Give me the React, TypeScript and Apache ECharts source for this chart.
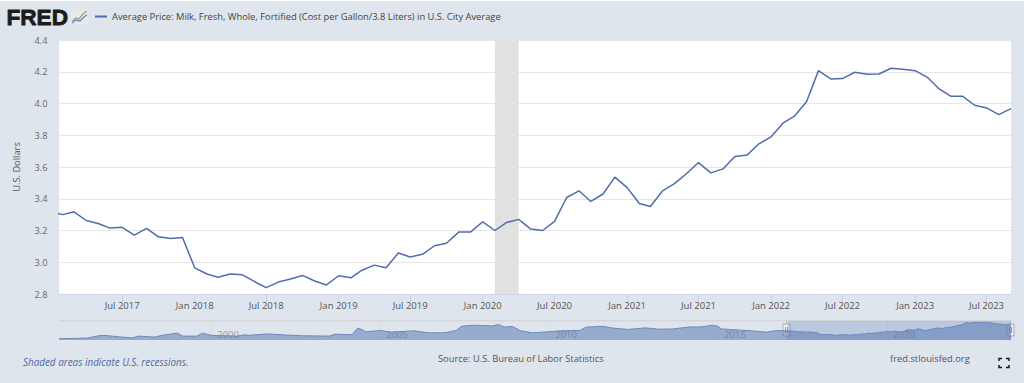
import React, { useEffect, useRef } from "react";
import * as echarts from "echarts";

const TITLE = "Average Price: Milk, Fresh, Whole, Fortified (Cost per Gallon/3.8 Liters) in U.S. City Average";
const LINE = "#4f6ea9";
const BG = "#dfe5ed";
const FONT = "'Open Sans', sans-serif";

const xTickDates = ["2017-07-01", "2018-01-01", "2018-07-01", "2019-01-01", "2019-07-01", "2020-01-01", "2020-07-01", "2021-01-01", "2021-07-01", "2022-01-01", "2022-07-01", "2023-01-01", "2023-07-01"];
const navTickDates = ["2000-01-01", "2005-01-01", "2010-01-01", "2015-01-01", "2020-01-01"];

const recession = ["2020-02-01", "2020-04-01"];
const viewRange = ["2017-01-22", "2023-09-01"];
const navRange = ["1995-07-01", "2023-09-01"];

const monthlyDates = [
  "2017-01", "2017-02", "2017-03", "2017-04", "2017-05", "2017-06", "2017-07", "2017-08", "2017-09", "2017-10", "2017-11", "2017-12",
  "2018-01", "2018-02", "2018-03", "2018-04", "2018-05", "2018-06", "2018-07", "2018-08", "2018-09", "2018-10", "2018-11", "2018-12",
  "2019-01", "2019-02", "2019-03", "2019-04", "2019-05", "2019-06", "2019-07", "2019-08", "2019-09", "2019-10", "2019-11", "2019-12",
  "2020-01", "2020-02", "2020-03", "2020-04", "2020-05", "2020-06", "2020-07", "2020-08", "2020-09", "2020-10", "2020-11", "2020-12",
  "2021-01", "2021-02", "2021-03", "2021-04", "2021-05", "2021-06", "2021-07", "2021-08", "2021-09", "2021-10", "2021-11", "2021-12",
  "2022-01", "2022-02", "2022-03", "2022-04", "2022-05", "2022-06", "2022-07", "2022-08", "2022-09", "2022-10", "2022-11", "2022-12",
  "2023-01", "2023-02", "2023-03", "2023-04", "2023-05", "2023-06", "2023-07", "2023-08", "2023-09",
];
const monthlyValues = [
  3.318, 3.30, 3.318, 3.263, 3.244, 3.215, 3.22, 3.171, 3.213, 3.16, 3.15, 3.156,
  2.965, 2.926, 2.905, 2.926, 2.922, 2.879, 2.84, 2.875, 2.894, 2.917, 2.882, 2.857,
  2.915, 2.902, 2.95, 2.982, 2.965, 3.058, 3.033, 3.05, 3.104, 3.12, 3.19, 3.19,
  3.255, 3.20, 3.25, 3.27, 3.21, 3.20, 3.257, 3.408, 3.45, 3.383, 3.43, 3.536,
  3.47, 3.37, 3.351, 3.45, 3.495, 3.559, 3.628, 3.563, 3.588, 3.666, 3.675, 3.746,
  3.79, 3.878, 3.92, 4.012, 4.207, 4.155, 4.157, 4.197, 4.184, 4.186, 4.222, 4.216,
  4.207, 4.165, 4.096, 4.046, 4.046, 3.989, 3.972, 3.93, 3.968,
];

const historyDates = [
  "1995-07", "1996-05", "1996-09", "1996-11", "1997-04", "1997-09", "1997-11", "1998-05", "1998-08", "1999-01", "1999-03", "1999-08", "1999-10",
  "2000-01", "2000-10", "2001-01", "2001-02", "2001-09", "2002-04", "2002-09", "2003-07", "2003-09", "2004-03", "2004-05", "2004-06", "2004-08", "2005-01", "2005-05",
  "2006-01", "2006-06", "2006-12", "2007-04", "2007-06", "2007-10", "2008-05", "2008-07", "2008-09", "2008-12", "2009-03", "2009-07", "2009-12",
  "2010-05", "2010-12", "2011-02", "2011-08", "2011-11", "2012-05", "2012-11", "2013-04", "2013-09", "2014-03", "2014-07", "2014-11", "2015-01", "2015-02",
  "2015-09", "2016-01", "2016-06", "2016-10",
];
const historyValues = [
  2.48, 2.56, 2.80, 2.84, 2.69, 2.56, 2.76, 2.66, 2.87, 3.08, 2.76, 2.76, 3.08,
  2.84, 2.76, 2.90, 2.84, 2.99, 2.87, 2.80, 2.76, 2.97, 2.90, 3.60, 3.52, 3.21, 3.36, 3.18,
  3.32, 3.11, 3.11, 3.36, 3.80, 3.91, 3.84, 3.98, 3.73, 3.77, 3.32, 3.11, 3.20,
  3.32, 3.36, 3.70, 3.80, 3.63, 3.46, 3.63, 3.49, 3.52, 3.73, 3.73, 3.91, 3.80, 3.52,
  3.39, 3.32, 3.18, 3.36,
];

const toTime = (s: string) => {
  const [y, m, d] = s.split("-").map(Number);
  return Date.UTC(y, m - 1, d || 1);
};
const MONTHS = ["Jan", "Feb", "Mar", "Apr", "May", "Jun", "Jul", "Aug", "Sep", "Oct", "Nov", "Dec"];

export default function App() {
  const ref = useRef<HTMLDivElement>(null);
  useEffect(() => {
    document.body.style.margin = "0";
    const chart = echarts.init(ref.current!, null, { renderer: "svg" });
    const main = monthlyDates.map((d, i) => [toTime(d), monthlyValues[i]]);
    const nav = [
      ...historyDates.map((d, i) => [toTime(d), historyValues[i]]),
      ...main,
    ];
    const text = (x: number, y: number, t: string, extra: any = {}) => ({
      type: "text", x, y, silent: true,
      style: { text: t, fontFamily: FONT, fontSize: 10, fill: "#555", textVerticalAlign: "middle", ...extra },
    });
    const handle = (x: number) => ({
      type: "group", silent: true, children: [
        { type: "line", shape: { x1: x, y1: 320, x2: x, y2: 340 }, style: { stroke: "#c4c8cf", lineWidth: 1 } },
        { type: "rect", shape: { x: x - 3.5, y: 324, width: 7, height: 12 }, style: { fill: "#f2f2f2", stroke: "#a9a9a9", lineWidth: 1 } },
        { type: "line", shape: { x1: x - 1, y1: 327, x2: x - 1, y2: 333 }, style: { stroke: "#999", lineWidth: 1 } },
        { type: "line", shape: { x1: x + 1, y1: 327, x2: x + 1, y2: 333 }, style: { stroke: "#999", lineWidth: 1 } },
      ],
    });
    const corner = (pts: number[][]) => ({
      type: "polyline", silent: true, shape: { points: pts }, style: { stroke: "#111", lineWidth: 1.4, fill: "none" },
    });
    chart.setOption({
      animation: false,
      backgroundColor: BG,
      textStyle: { fontFamily: FONT },
      legend: {
        data: [TITLE], left: 95, top: 12, padding: 0, itemWidth: 12, itemHeight: 2, itemGap: 4, icon: "rect",
        selectedMode: false,
        textStyle: { fontFamily: FONT, fontSize: 9.35, color: "#444" },
      },
      grid: [
        { left: 59, width: 952, top: 40, height: 254, backgroundColor: "#fff", show: true, borderWidth: 0 },
        { left: 59, width: 952, top: 321, height: 19 },
      ],
      xAxis: [
        {
          type: "value", gridIndex: 0, min: toTime(viewRange[0]), max: toTime(viewRange[1]),
          splitLine: { show: false },
          axisLine: { lineStyle: { color: "#ccd6eb", width: 1 } },
          axisTick: { show: true, length: 9, lineStyle: { color: "#c8d3ea", width: 1 }, customValues: xTickDates.map(toTime) },
          axisLabel: {
            customValues: xTickDates.map(toTime), margin: 6, fontSize: 9.5, color: "#555", fontFamily: FONT,
            hideOverlap: false,
            formatter: (v: number) => { const d = new Date(v); return `${MONTHS[d.getUTCMonth()]} ${d.getUTCFullYear()}`; },
          },
        },
        {
          type: "value", gridIndex: 1, min: toTime(navRange[0]), max: toTime(navRange[1]),
          splitLine: { show: false },
          axisLine: { show: false },
          axisTick: { show: true, inside: true, length: 19, lineStyle: { color: "#d8dde4" }, customValues: navTickDates.map(toTime) },
          axisLabel: {
            customValues: navTickDates.map(toTime), inside: true, margin: 1, fontSize: 9.5, color: "#9a9a9a", fontFamily: FONT,
            align: "left", padding: [0, 0, 0, 6], hideOverlap: false,
            formatter: (v: number) => String(new Date(v).getUTCFullYear()),
          },
        },
      ],
      yAxis: [
        {
          type: "value", gridIndex: 0, min: 2.8, max: 4.4, interval: 0.2,
          name: "U.S. Dollars", nameLocation: "middle", nameGap: 38,
          nameTextStyle: { fontFamily: FONT, fontSize: 9.3, color: "#555" },
          axisLine: { show: false }, axisTick: { show: false },
          splitLine: { lineStyle: { color: "#e6e6e6", width: 1 } },
          axisLabel: { margin: 11.5, fontSize: 9.2, color: "#666", fontFamily: FONT, formatter: (v: number) => v.toFixed(1) },
        },
        {
          type: "value", gridIndex: 1, min: 2.35, max: 4.355,
          axisLine: { show: false }, axisTick: { show: false }, axisLabel: { show: false }, splitLine: { show: false },
        },
      ],
      series: [
        {
          name: TITLE, type: "line", xAxisIndex: 0, yAxisIndex: 0, data: main, showSymbol: false, symbol: "none",
          lineStyle: { color: LINE, width: 1.5 }, itemStyle: { color: LINE }, clip: true, silent: true,
          markArea: {
            silent: true, itemStyle: { color: "#e1e1e1" },
            data: [[{ xAxis: toTime(recession[0]) }, { xAxis: toTime(recession[1]) }]],
          },
        },
        {
          name: "navigator", type: "line", xAxisIndex: 1, yAxisIndex: 1, data: nav, showSymbol: false, symbol: "none",
          lineStyle: { color: "#6f89bb", width: 1 }, areaStyle: { color: "#4f72ad", opacity: 0.5 }, silent: true,
          markArea: {
            silent: true, itemStyle: { color: "rgba(102,133,194,0.3)" },
            data: [[{ xAxis: toTime(viewRange[0]) }, { xAxis: toTime(viewRange[1]) }]],
          },
        },
      ],
      graphic: [
        { type: "rect", silent: true, shape: { x: 0, y: 0, width: 1024, height: 1 }, style: { fill: "#fff" } },
        { type: "rect", silent: true, shape: { x: 59, y: 320, width: 952, height: 1.6 }, style: { fill: "#d3d7dc" } },
        text(6.5, 17, "FRED", { fontFamily: "'Liberation Sans', sans-serif", fontWeight: 900, fontSize: 22.6, fill: "#1c1c1c", stroke: "#1c1c1c", lineWidth: 0.8 }),
        { type: "rect", silent: true, shape: { x: 71, y: 9, width: 17, height: 15 }, style: { fill: "#e8e9ea" } },
        { type: "polyline", silent: true, shape: { points: [[72, 21], [76, 18], [79, 19], [83, 14], [87, 11]] }, style: { stroke: "#93ab7d", lineWidth: 1.3, fill: "none" } },
        { type: "polyline", silent: true, shape: { points: [[72, 23], [76, 20], [80, 21], [84, 17], [87, 15]] }, style: { stroke: "#6d88b3", lineWidth: 1.3, fill: "none" } },
        handle(786.5),
        handle(1010.5),
        text(23, 362, "Shaded areas indicate U.S. recessions.", { fontStyle: "italic", fill: "#5069a0", fontSize: 9.9 }),
        text(438, 358, "Source: U.S. Bureau of Labor Statistics", { fontSize: 9.36 }),
        text(890, 358, "fred.stlouisfed.org", { fontSize: 9.36 }),
        corner([[999, 361], [999, 358.5], [1002, 358.5]]),
        corner([[1006, 358.5], [1009, 358.5], [1009, 361]]),
        corner([[999, 365], [999, 367.5], [1002, 367.5]]),
        corner([[1006, 367.5], [1009, 367.5], [1009, 365]]),
      ],
    });
    return () => chart.dispose();
  }, []);
  return <div ref={ref} style={{ width: 1024, height: 383 }} />;
}
